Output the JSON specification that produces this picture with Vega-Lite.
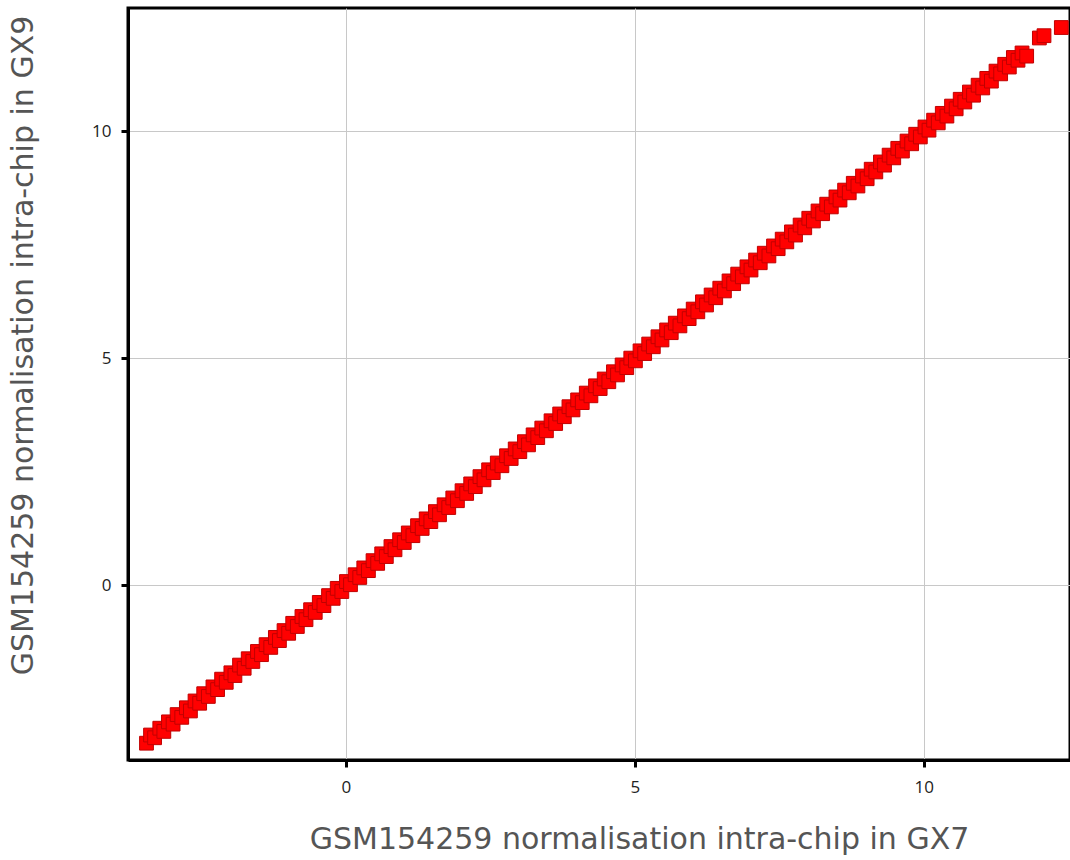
{
  "$schema": "https://vega.github.io/schema/vega-lite/v6.json",
  "autosize": {"type": "none"},
  "padding": {"left": 128, "top": 8, "right": 0, "bottom": 100},
  "width": 942,
  "height": 752,
  "background": "white",
  "config": {
    "view": {"stroke": "black", "strokeWidth": 3},
    "font": "Open Sans",
    "axis": {
      "domainColor": "black",
      "domainWidth": 3,
      "ticks": true,
      "tickColor": "black",
      "tickWidth": 3,
      "tickSize": 7,
      "gridColor": "#c8c8c8",
      "gridWidth": 1,
      "labelFont": "Open Sans",
      "labelFontSize": 17,
      "labelColor": "#222",
      "labelPadding": 10,
      "titleFont": "DejaVu Sans",
      "titleFontSize": 30,
      "titleFontWeight": "normal",
      "titleColor": "#555"
    }
  },
  "data": {"values": [
    {"a": -3.45, "b": -3.48}, {"a": -3.38, "b": -3.30}, {"a": -3.31, "b": -3.36}, {"a": -3.22, "b": -3.15},
    {"a": -3.15, "b": -3.22}, {"a": -3.07, "b": -3.01}, {"a": -2.99, "b": -3.06}, {"a": -2.92, "b": -2.85},
    {"a": -2.84, "b": -2.91}, {"a": -2.76, "b": -2.70}, {"a": -2.69, "b": -2.77}, {"a": -2.61, "b": -2.55},
    {"a": -2.53, "b": -2.60}, {"a": -2.46, "b": -2.39}, {"a": -2.38, "b": -2.45}, {"a": -2.30, "b": -2.24},
    {"a": -2.22, "b": -2.30}, {"a": -2.15, "b": -2.07}, {"a": -2.07, "b": -2.14}, {"a": -1.99, "b": -1.93},
    {"a": -1.92, "b": -1.99}, {"a": -1.84, "b": -1.76}, {"a": -1.76, "b": -1.83}, {"a": -1.69, "b": -1.62},
    {"a": -1.61, "b": -1.68}, {"a": -1.53, "b": -1.46}, {"a": -1.46, "b": -1.53}, {"a": -1.38, "b": -1.31},
    {"a": -1.30, "b": -1.37}, {"a": -1.22, "b": -1.15}, {"a": -1.15, "b": -1.22}, {"a": -1.07, "b": -1.00},
    {"a": -0.99, "b": -1.06}, {"a": -0.92, "b": -0.84}, {"a": -0.84, "b": -0.91}, {"a": -0.76, "b": -0.69},
    {"a": -0.69, "b": -0.76}, {"a": -0.61, "b": -0.54}, {"a": -0.53, "b": -0.60}, {"a": -0.46, "b": -0.38},
    {"a": -0.38, "b": -0.45}, {"a": -0.30, "b": -0.23}, {"a": -0.22, "b": -0.29}, {"a": -0.15, "b": -0.07},
    {"a": -0.07, "b": -0.14}, {"a": 0.01, "b": 0.08}, {"a": 0.08, "b": 0.01}, {"a": 0.16, "b": 0.23},
    {"a": 0.24, "b": 0.17}, {"a": 0.31, "b": 0.38}, {"a": 0.39, "b": 0.32}, {"a": 0.47, "b": 0.54},
    {"a": 0.55, "b": 0.48}, {"a": 0.62, "b": 0.69}, {"a": 0.70, "b": 0.63}, {"a": 0.78, "b": 0.85},
    {"a": 0.85, "b": 0.78}, {"a": 0.93, "b": 1.00}, {"a": 1.01, "b": 0.94}, {"a": 1.08, "b": 1.15},
    {"a": 1.16, "b": 1.09}, {"a": 1.24, "b": 1.31}, {"a": 1.32, "b": 1.25}, {"a": 1.39, "b": 1.46},
    {"a": 1.47, "b": 1.40}, {"a": 1.55, "b": 1.62}, {"a": 1.62, "b": 1.55}, {"a": 1.70, "b": 1.77},
    {"a": 1.78, "b": 1.71}, {"a": 1.85, "b": 1.92}, {"a": 1.93, "b": 1.86}, {"a": 2.01, "b": 2.08},
    {"a": 2.09, "b": 2.02}, {"a": 2.16, "b": 2.23}, {"a": 2.24, "b": 2.17}, {"a": 2.32, "b": 2.39},
    {"a": 2.39, "b": 2.32}, {"a": 2.47, "b": 2.54}, {"a": 2.55, "b": 2.48}, {"a": 2.62, "b": 2.69},
    {"a": 2.70, "b": 2.63}, {"a": 2.78, "b": 2.85}, {"a": 2.86, "b": 2.79}, {"a": 2.93, "b": 3.00},
    {"a": 3.01, "b": 2.94}, {"a": 3.09, "b": 3.16}, {"a": 3.16, "b": 3.09}, {"a": 3.24, "b": 3.31},
    {"a": 3.32, "b": 3.25}, {"a": 3.39, "b": 3.46}, {"a": 3.47, "b": 3.40}, {"a": 3.55, "b": 3.62},
    {"a": 3.63, "b": 3.56}, {"a": 3.70, "b": 3.77}, {"a": 3.78, "b": 3.71}, {"a": 3.86, "b": 3.93},
    {"a": 3.93, "b": 3.86}, {"a": 4.01, "b": 4.08}, {"a": 4.09, "b": 4.02}, {"a": 4.16, "b": 4.23},
    {"a": 4.24, "b": 4.17}, {"a": 4.32, "b": 4.39}, {"a": 4.40, "b": 4.33}, {"a": 4.47, "b": 4.54},
    {"a": 4.55, "b": 4.48}, {"a": 4.63, "b": 4.70}, {"a": 4.70, "b": 4.63}, {"a": 4.78, "b": 4.85},
    {"a": 4.86, "b": 4.79}, {"a": 4.93, "b": 5.00}, {"a": 5.01, "b": 4.94}, {"a": 5.09, "b": 5.16},
    {"a": 5.17, "b": 5.10}, {"a": 5.24, "b": 5.31}, {"a": 5.32, "b": 5.25}, {"a": 5.40, "b": 5.47},
    {"a": 5.47, "b": 5.40}, {"a": 5.55, "b": 5.62}, {"a": 5.63, "b": 5.56}, {"a": 5.70, "b": 5.77},
    {"a": 5.78, "b": 5.71}, {"a": 5.86, "b": 5.93}, {"a": 5.94, "b": 5.87}, {"a": 6.01, "b": 6.08},
    {"a": 6.09, "b": 6.02}, {"a": 6.17, "b": 6.24}, {"a": 6.24, "b": 6.17}, {"a": 6.32, "b": 6.39},
    {"a": 6.40, "b": 6.33}, {"a": 6.47, "b": 6.54}, {"a": 6.55, "b": 6.48}, {"a": 6.63, "b": 6.70},
    {"a": 6.71, "b": 6.64}, {"a": 6.78, "b": 6.85}, {"a": 6.86, "b": 6.79}, {"a": 6.94, "b": 7.01},
    {"a": 7.01, "b": 6.94}, {"a": 7.09, "b": 7.16}, {"a": 7.17, "b": 7.10}, {"a": 7.24, "b": 7.31},
    {"a": 7.32, "b": 7.25}, {"a": 7.40, "b": 7.47}, {"a": 7.48, "b": 7.41}, {"a": 7.55, "b": 7.62},
    {"a": 7.63, "b": 7.56}, {"a": 7.71, "b": 7.78}, {"a": 7.78, "b": 7.71}, {"a": 7.86, "b": 7.93},
    {"a": 7.94, "b": 7.87}, {"a": 8.01, "b": 8.08}, {"a": 8.09, "b": 8.02}, {"a": 8.17, "b": 8.24},
    {"a": 8.25, "b": 8.18}, {"a": 8.32, "b": 8.39}, {"a": 8.40, "b": 8.33}, {"a": 8.48, "b": 8.55},
    {"a": 8.55, "b": 8.48}, {"a": 8.63, "b": 8.70}, {"a": 8.71, "b": 8.64}, {"a": 8.78, "b": 8.85},
    {"a": 8.86, "b": 8.79}, {"a": 8.94, "b": 9.01}, {"a": 9.02, "b": 8.95}, {"a": 9.09, "b": 9.16},
    {"a": 9.17, "b": 9.10}, {"a": 9.25, "b": 9.32}, {"a": 9.32, "b": 9.25}, {"a": 9.40, "b": 9.47},
    {"a": 9.48, "b": 9.41}, {"a": 9.55, "b": 9.62}, {"a": 9.63, "b": 9.56}, {"a": 9.71, "b": 9.78},
    {"a": 9.79, "b": 9.72}, {"a": 9.86, "b": 9.93}, {"a": 9.94, "b": 9.87}, {"a": 10.02, "b": 10.09},
    {"a": 10.09, "b": 10.02}, {"a": 10.17, "b": 10.24}, {"a": 10.25, "b": 10.18}, {"a": 10.32, "b": 10.39},
    {"a": 10.40, "b": 10.33}, {"a": 10.48, "b": 10.55}, {"a": 10.56, "b": 10.49}, {"a": 10.63, "b": 10.70},
    {"a": 10.71, "b": 10.64}, {"a": 10.79, "b": 10.86}, {"a": 10.86, "b": 10.79}, {"a": 10.94, "b": 11.01},
    {"a": 11.02, "b": 10.95}, {"a": 11.09, "b": 11.16}, {"a": 11.17, "b": 11.10}, {"a": 11.25, "b": 11.32},
    {"a": 11.33, "b": 11.26}, {"a": 11.40, "b": 11.47}, {"a": 11.48, "b": 11.41}, {"a": 11.55, "b": 11.62},
    {"a": 11.63, "b": 11.56}, {"a": 11.70, "b": 11.72}, {"a": 11.78, "b": 11.65}, {"a": 12.00, "b": 12.05},
    {"a": 12.08, "b": 12.10}, {"a": 12.38, "b": 12.28}
  ]},
  "mark": {"type": "square", "size": 190, "filled": true, "fill": "#ff0000", "stroke": "#c00000", "strokeWidth": 1, "opacity": 1, "clip": true},
  "encoding": {
    "x": {
      "field": "a", "type": "quantitative",
      "scale": {"domain": [-3.77, 12.53], "nice": false, "zero": false},
      "axis": {
        "values": [0, 5, 10],
        "labelPadding": 12,
        "title": "GSM154259 normalisation intra-chip in GX7",
        "titleX": 511, "titleY": 88, "titleBaseline": "alphabetic", "titleAlign": "center"
      }
    },
    "y": {
      "field": "b", "type": "quantitative",
      "scale": {"domain": [-3.85, 12.71], "nice": false, "zero": false},
      "axis": {
        "values": [0, 5, 10],
        "title": "GSM154259 normalisation intra-chip in GX9",
        "titleX": -96, "titleY": 337, "titleAngle": -90, "titleBaseline": "alphabetic", "titleAlign": "center"
      }
    }
  }
}
